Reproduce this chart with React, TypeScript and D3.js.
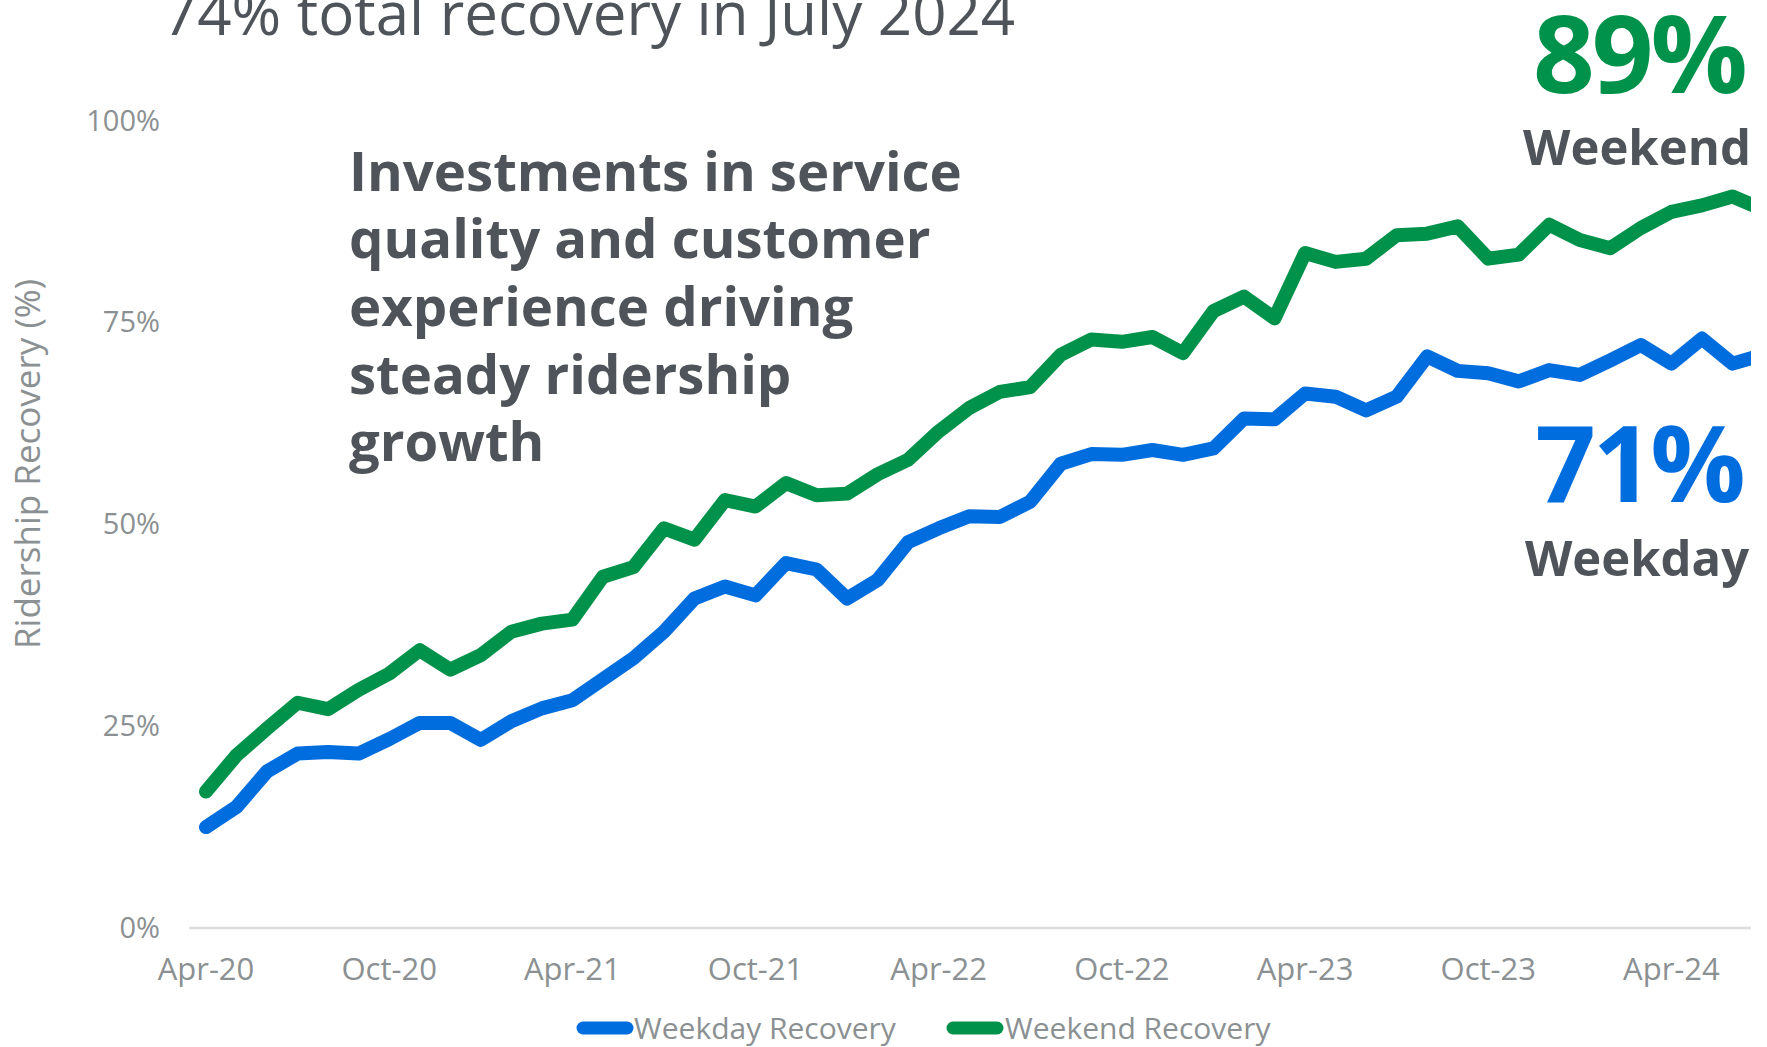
import * as d3 from 'd3';

const WIDTH = 1767;
const HEIGHT = 1047;

// monthly categories, Apr 2020 to Jul 2024
const MONTHS = [
  'Apr-20', 'May-20', 'Jun-20', 'Jul-20', 'Aug-20', 'Sep-20', 'Oct-20', 'Nov-20', 'Dec-20',
  'Jan-21', 'Feb-21', 'Mar-21', 'Apr-21', 'May-21', 'Jun-21', 'Jul-21', 'Aug-21', 'Sep-21',
  'Oct-21', 'Nov-21', 'Dec-21', 'Jan-22', 'Feb-22', 'Mar-22', 'Apr-22', 'May-22', 'Jun-22',
  'Jul-22', 'Aug-22', 'Sep-22', 'Oct-22', 'Nov-22', 'Dec-22', 'Jan-23', 'Feb-23', 'Mar-23',
  'Apr-23', 'May-23', 'Jun-23', 'Jul-23', 'Aug-23', 'Sep-23', 'Oct-23', 'Nov-23', 'Dec-23',
  'Jan-24', 'Feb-24', 'Mar-24', 'Apr-24', 'May-24', 'Jun-24', 'Jul-24',
];

const WEEKDAY = [
  12.5, 15.0, 19.4, 21.6, 21.8, 21.6, 23.4, 25.4, 25.4, 23.3, 25.6, 27.2, 28.2, 30.8, 33.4,
  36.7, 40.8, 42.3, 41.2, 45.2, 44.4, 40.8, 43.1, 47.8, 49.5, 51.0, 50.9, 52.8, 57.5, 58.7,
  58.6, 59.2, 58.6, 59.4, 63.1, 63.0, 66.2, 65.8, 64.1, 65.8, 70.8, 69.0, 68.7, 67.7, 69.1,
  68.5, 70.3, 72.2, 69.9, 73.0, 69.9, 71.0,
];

const WEEKEND = [
  16.9, 21.4, 24.7, 27.9, 27.1, 29.5, 31.5, 34.4, 32.0, 33.8, 36.7, 37.7, 38.2, 43.5, 44.7,
  49.5, 48.1, 53.0, 52.2, 55.1, 53.6, 53.8, 56.2, 58.0, 61.5, 64.4, 66.4, 67.0, 71.0, 72.9,
  72.6, 73.2, 71.2, 76.4, 78.2, 75.5, 83.6, 82.5, 82.9, 85.8, 86.0, 86.9, 82.9, 83.4, 87.1,
  85.2, 84.2, 86.7, 88.7, 89.5, 90.6, 89.0,
];

const X_TICKS = ['Apr-20', 'Oct-20', 'Apr-21', 'Oct-21', 'Apr-22', 'Oct-22', 'Apr-23', 'Oct-23', 'Apr-24'];
const Y_TICKS = [0, 25, 50, 75, 100];

const NOTE_LINES = [
  'Investments in service',
  'quality and customer',
  'experience driving',
  'steady ridership',
  'growth',
];

const BLUE = '#006ddf';
const GREEN = '#00924a';
const DARK = '#4e5459';
const GRAY = '#8b9092';
const FONT = '"Open Sans", "Noto Sans", sans-serif';

const PLOT = { left: 189, right: 1751, top: 120.6, bottom: 928 };

export default function App() {
  const x = d3.scalePoint<string>().domain(MONTHS).range([206, 1763]);
  const y = d3.scaleLinear().domain([0, 100]).range([PLOT.bottom, PLOT.top]);

  const line = d3
    .line<number>()
    .x((_, i) => x(MONTHS[i]) as number)
    .y((d) => y(d));

  const series = [
    { name: 'Weekday Recovery', values: WEEKDAY, color: BLUE },
    { name: 'Weekend Recovery', values: WEEKEND, color: GREEN },
  ];

  // legend layout (swatch start, text start)
  const legend = [
    { ...series[0], x: 583, tx: 634 },
    { ...series[1], x: 953, tx: 1005 },
  ];

  return (
    <svg
      width={WIDTH}
      height={HEIGHT}
      style={{ position: 'absolute', left: 0, top: 0, background: '#fff' }}
      fontFamily={FONT}
    >
      <defs>
        <clipPath id="plot-clip">
          <rect x={PLOT.left} y={0} width={PLOT.right - PLOT.left} height={HEIGHT} />
        </clipPath>
      </defs>

      <text x={163} y={35} fontSize={60} fill={DARK}>
        74% total recovery in July 2024
      </text>

      {/* y axis labels */}
      {Y_TICKS.map((t) => (
        <text key={t} x={160} y={y(t) + 10} textAnchor="end" fontSize={29} fill={GRAY}>
          {t}%
        </text>
      ))}
      <text
        transform={`translate(40,${464}) rotate(-90)`}
        textAnchor="middle"
        fontSize={35}
        fill={GRAY}
      >
        Ridership Recovery (%)
      </text>

      {/* baseline */}
      <line
        x1={PLOT.left}
        x2={PLOT.right}
        y1={y(0)}
        y2={y(0)}
        stroke="#dcdcdc"
        strokeWidth={2.5}
      />

      {X_TICKS.map((m) => (
        <text key={m} x={x(m)} y={980} textAnchor="middle" fontSize={31} fill={GRAY}>
          {m}
        </text>
      ))}

      <g clipPath="url(#plot-clip)">
        {series.map((s) => (
          <path
            key={s.name}
            d={line(s.values) ?? ''}
            fill="none"
            stroke={s.color}
            strokeWidth={14}
            strokeLinejoin="round"
            strokeLinecap="round"
          />
        ))}
      </g>

      {/* annotation */}
      {NOTE_LINES.map((l, i) => (
        <text key={i} x={349} y={190.7 + i * 67.6} fontSize={54.5} fontWeight={700} fill={DARK}>
          {l}
        </text>
      ))}

      {/* end labels */}
      <text x={1639} y={93} textAnchor="middle" fontSize={108} fontWeight={700} fill={GREEN} letterSpacing={-3}>
        89%
      </text>
      <text x={1637} y={165} textAnchor="middle" fontSize={49} fontWeight={700} fill={DARK}>
        Weekend
      </text>
      <text x={1639} y={502} textAnchor="middle" fontSize={106} fontWeight={700} fill={BLUE} letterSpacing={-3}>
        71%
      </text>
      <text x={1637} y={576} textAnchor="middle" fontSize={49} fontWeight={700} fill={DARK}>
        Weekday
      </text>

      {/* legend */}
      {legend.map((s) => (
        <g key={s.name}>
          <line
            x1={s.x}
            x2={s.x + 44}
            y1={1028}
            y2={1028}
            stroke={s.color}
            strokeWidth={13}
            strokeLinecap="round"
          />
          <text x={s.tx} y={1039} fontSize={30} fill={GRAY}>
            {s.name}
          </text>
        </g>
      ))}
    </svg>
  );
}
